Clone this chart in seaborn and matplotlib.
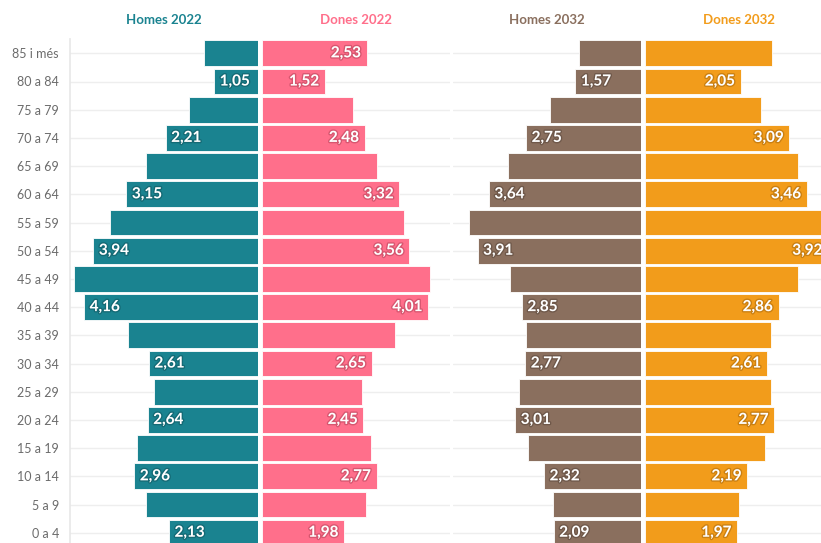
import matplotlib
matplotlib.use("Agg")
import matplotlib.pyplot as plt
import matplotlib.patheffects as pe
import seaborn as sns
import pandas as pd

# grups d'edat (de dalt a baix)
grups = ["85 i més", "80 a 84", "75 a 79", "70 a 74", "65 a 69", "60 a 64",
         "55 a 59", "50 a 54", "45 a 49", "40 a 44", "35 a 39", "30 a 34",
         "25 a 29", "20 a 24", "15 a 19", "10 a 14", "5 a 9", "0 a 4"]

# percentatge de població per grup
homes_2022 = [1.29, 1.05, 1.66, 2.21, 2.67, 3.15, 3.53, 3.94, 4.39, 4.16,
              3.12, 2.61, 2.49, 2.64, 2.89, 2.96, 2.67, 2.13]
dones_2022 = [2.53, 1.52, 2.19, 2.48, 2.78, 3.32, 3.43, 3.56, 4.05, 4.01,
              3.21, 2.65, 2.41, 2.45, 2.63, 2.77, 2.52, 1.98]
homes_2032 = [1.48, 1.57, 2.17, 2.75, 3.19, 3.64, 4.11, 3.91, 3.13, 2.85,
              2.75, 2.77, 2.93, 3.01, 2.71, 2.32, 2.11, 2.09]
dones_2032 = [2.73, 2.05, 2.49, 3.09, 3.27, 3.46, 4.05, 3.92, 3.28, 2.86,
              2.69, 2.61, 2.69, 2.77, 2.58, 2.19, 2.01, 1.97]

# files amb etiqueta de valor
files_etiqueta = [1, 3, 5, 7, 9, 11, 13, 15, 17]

titols = ["Homes 2022", "Dones 2022", "Homes 2032", "Dones 2032"]
colors = ["#1a8390", "#ff6f8b", "#8a6f5e", "#f29c1b"]
ombres = ["#0e4d55", "#a8394f", "#4f3d32", "#9a5e08"]

sns.set_theme(style="white")
plt.rcParams["font.family"] = ["Lato", "DejaVu Sans"]

W, H = 821, 543
fig = plt.figure(figsize=(W / 100, H / 100), dpi=100)

# posicio en pixels: (esquerra, amplada, escala px per unitat)
panells = [(70, 188, 41.8), (262, 188, 41.4), (453, 188, 41.8), (645, 190, 46.7)]
top_px, bottom_px = 39, 543
fila0, pas = 53.3, 28.2

series = [homes_2022, dones_2022, homes_2032, dones_2032]
for k, (vals, (left, width, escala)) in enumerate(zip(series, panells)):
    ax = fig.add_axes([left / W, 1 - bottom_px / H, width / W, (bottom_px - top_px) / H])
    df = pd.DataFrame({"grup": grups, "valor": vals})
    sns.barplot(data=df, x="valor", y="grup", order=grups, orient="h",
                color=colors[k], saturation=1, width=0.91,
                edgecolor="white", linewidth=0.6, ax=ax, zorder=3)
    homes = k % 2 == 0
    xmax = width / escala
    ax.set_xlim((xmax, 0) if homes else (0, xmax))
    ax.set_ylim((bottom_px - fila0) / pas, (top_px - fila0) / pas)
    ax.set_xlabel("")
    ax.set_ylabel("")
    ax.set_xticks([])
    ax.set_axisbelow(True)
    ax.yaxis.grid(True, color="#eeeeee", lw=1)
    for s in ax.spines.values():
        s.set_visible(False)
    if k == 0:
        ax.spines["left"].set_visible(True)
        ax.spines["left"].set_color("#e8e8e8")
        ax.tick_params(axis="y", length=0, pad=8, labelsize=9, labelcolor="#6b6b6b")
    else:
        ax.set_yticklabels([])
        ax.tick_params(axis="y", length=0)

    # etiquetes de valor
    rows = list(files_etiqueta)
    if k == 1:
        rows = [0] + rows
    for i in rows:
        txt = f"{vals[i]:.2f}".replace(".", ",")
        ax.annotate(txt, xy=(vals[i], i), xytext=(4 if homes else -4, 0),
                    textcoords="offset points",
                    ha="left" if homes else "right", va="center",
                    color="white", fontsize=11, fontweight="bold", zorder=5,
                    path_effects=[pe.withStroke(linewidth=2, foreground=ombres[k], alpha=0.45)])

    pos = ax.get_position()
    fig.text(pos.x0 + pos.width / 2 if k < 3 else (left + 94) / W, 1 - 20.5 / H, titols[k],
             ha="center", va="center", color=colors[k], fontsize=9.5, fontweight="bold")

fig.savefig("out.png", dpi=100)
